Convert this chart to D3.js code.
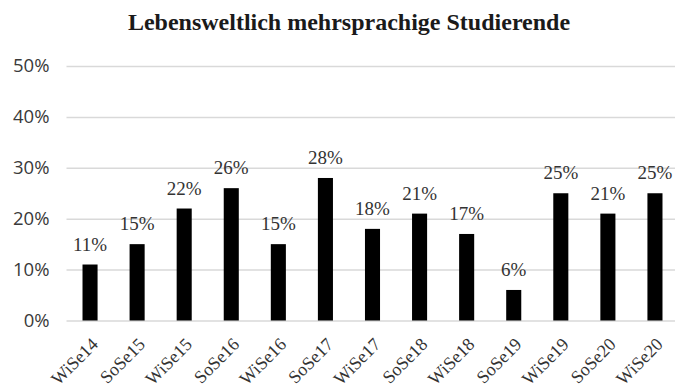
<!DOCTYPE html>
<html>
<head>
<meta charset="utf-8">
<script src="https://cdn.jsdelivr.net/npm/d3@7"></script>
<style>
  html, body { margin: 0; padding: 0; background: #fff; }
  svg { display: block; }
</style>
</head>
<body>
<svg id="chart" width="675" height="391"></svg>
<script>
// Semester labels and share of multilingual students (in %)
const semesters = ["WiSe14", "SoSe15", "WiSe15", "SoSe16", "WiSe16", "SoSe17", "WiSe17",
                   "SoSe18", "WiSe18", "SoSe19", "WiSe19", "SoSe20", "WiSe20"];
const shares = [11, 15, 22, 26, 15, 28, 18, 21, 17, 6, 25, 21, 25];
const yTicks = [0, 10, 20, 30, 40, 50];
const title = "Lebensweltlich mehrsprachige Studierende";

const svg = d3.select("#chart");
const W = 675, H = 391;
const margin = { top: 66, right: -3.5, bottom: 70.5, left: 66.5 };

const x = d3.scaleBand()
  .domain(semesters)
  .range([margin.left, W - margin.right])
  .paddingInner(0.68)
  .paddingOuter(0.34);

const y = d3.scaleLinear()
  .domain([0, 50])
  .range([H - margin.bottom, margin.top]);

// Title
svg.append("text")
  .attr("x", 349)
  .attr("y", 30)
  .attr("text-anchor", "middle")
  .attr("font-family", "'Liberation Serif', serif")
  .attr("font-weight", "bold")
  .attr("font-size", 24)
  .attr("fill", "#1a1a1a")
  .text(title);

// Horizontal gridlines with percentage labels
const yAxis = d3.axisLeft(y)
  .tickValues(yTicks)
  .tickSize(-(W - margin.left - margin.right))
  .tickPadding(17)
  .tickFormat(d => d + "%");

const gy = svg.append("g")
  .attr("transform", `translate(${margin.left},0)`)
  .call(yAxis);
gy.select(".domain").remove();
gy.selectAll(".tick line")
  .attr("stroke", "#d9d9d9")
  .attr("stroke-width", 1.5);
gy.selectAll(".tick text")
  .attr("font-family", "'Open Sans', sans-serif")
  .attr("font-size", 18.5)
  .attr("fill", "#3a3a3a");

// Bars
svg.append("g")
  .selectAll("rect")
  .data(semesters)
  .join("rect")
  .attr("x", (d) => x(d))
  .attr("width", x.bandwidth())
  .attr("y", (d, i) => y(shares[i]))
  .attr("height", (d, i) => y(0) - y(shares[i]))
  .attr("fill", "#000");

// Value labels above bars
svg.append("g")
  .selectAll("text")
  .data(semesters)
  .join("text")
  .attr("x", d => x(d) + x.bandwidth() / 2)
  .attr("y", (d, i) => y(shares[i]) - 14)
  .attr("text-anchor", "middle")
  .attr("font-family", "'Liberation Serif', serif")
  .attr("font-size", 19)
  .attr("fill", "#333")
  .text((d, i) => shares[i] + "%");

// Rotated semester labels
const xAxis = d3.axisBottom(x).tickSize(0).tickPadding(0);
const gx = svg.append("g")
  .attr("transform", `translate(0,${y(0)})`)
  .call(xAxis);
gx.select(".domain").remove();
gx.selectAll(".tick text")
  .attr("font-family", "'Liberation Serif', serif")
  .attr("font-size", 18)
  .attr("fill", "#333")
  .attr("text-anchor", "end")
  .attr("dy", 0)
  .attr("transform", "translate(9,25) rotate(-45)");
</script>
</body>
</html>
